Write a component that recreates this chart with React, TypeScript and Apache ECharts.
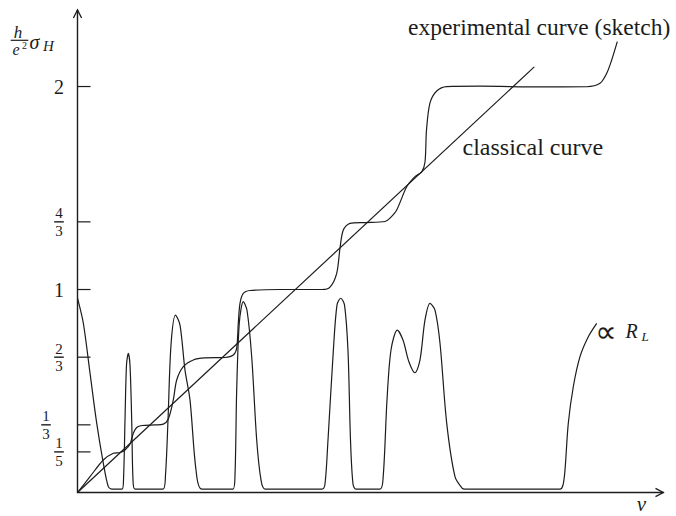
import React, { useEffect, useRef } from 'react';
import * as echarts from 'echarts';

// y-axis ticks
const yTickValues = [1 / 5, 1 / 3, 2 / 3, 1, 4 / 3, 2];
const yTickLabels = ['1/5', '1/3', '2/3', '1', '4/3', '2'];

// classical curve (straight line)
const classicalNu = [0, 4.568];
const classicalSigma = [0, 2.097];

// experimental Hall curve (sketch)
const hallNu = [
  0, 0.125, 0.258, 0.358, 0.425, 0.475, 0.525, 0.558, 0.592, 0.645, 0.775, 0.858, 0.908, 0.958, 0.992,
  1.058, 1.158, 1.275, 1.475, 1.558, 1.592, 1.608, 1.625, 1.658, 1.725, 2.025, 2.445, 2.525, 2.592,
  2.625, 2.658, 2.725, 2.875, 3.075, 3.125, 3.192, 3.292, 3.375, 3.442, 3.475, 3.49, 3.525, 3.592,
  3.692, 4.025, 4.625, 5.092, 5.225, 5.292, 5.342, 5.398,
];
const hallSigma = [
  0, 0.078, 0.16, 0.193, 0.197, 0.209, 0.239, 0.292, 0.32, 0.33, 0.333, 0.337, 0.362, 0.456, 0.554,
  0.62, 0.653, 0.663, 0.665, 0.677, 0.712, 0.835, 0.932, 0.981, 0.995, 1.0, 1.0, 1.012, 1.08,
  1.204, 1.293, 1.326, 1.33, 1.335, 1.352, 1.392, 1.506, 1.556, 1.579, 1.628, 1.786, 1.919, 1.978,
  2.0, 2.002, 1.998, 1.999, 2.016, 2.065, 2.131, 2.221,
];

// longitudinal resistance (arbitrary units)
const rlNu = [
  0, 0.058, 0.125, 0.192, 0.258, 0.308, 0.345, 0.445, 0.46, 0.475, 0.49, 0.508, 0.525, 0.542, 0.555,
  0.575, 0.855, 0.88, 0.905, 0.935, 0.98, 1.025, 1.075, 1.125, 1.185, 1.242, 1.555, 1.575, 1.592,
  1.618, 1.658, 1.695, 1.742, 1.792, 1.835, 1.875, 2.445, 2.475, 2.505, 2.558, 2.595, 2.632, 2.67,
  2.705, 2.73, 2.755, 2.785, 3.025, 3.058, 3.095, 3.135, 3.198, 3.255, 3.315, 3.375, 3.425, 3.475,
  3.525, 3.575, 3.625, 3.692, 3.775, 3.845, 3.875, 4.825, 4.855, 4.875, 4.908, 4.958, 5.025, 5.108,
  5.192,
];
const rlValue = [
  0.958, 0.835, 0.589, 0.342, 0.145, 0.029, 0.017, 0.017, 0.062, 0.357, 0.628, 0.686, 0.628, 0.357,
  0.062, 0.017, 0.017, 0.086, 0.357, 0.727, 0.874, 0.825, 0.603, 0.456, 0.111, 0.017, 0.017, 0.086,
  0.505, 0.835, 0.94, 0.898, 0.669, 0.259, 0.062, 0.017, 0.017, 0.042, 0.259, 0.696, 0.924, 0.957,
  0.924, 0.697, 0.259, 0.042, 0.017, 0.017, 0.086, 0.456, 0.702, 0.8, 0.751, 0.643, 0.59, 0.653,
  0.85, 0.932, 0.898, 0.735, 0.342, 0.078, 0.022, 0.017, 0.017, 0.037, 0.111, 0.341, 0.521, 0.669,
  0.767, 0.833,
];

const INK = '#1c1c1c';
const SERIF = '"Liberation Serif", "Times New Roman", serif';

function zip(a: number[], b: number[]) {
  return a.map((v, i) => [v, b[i]]);
}

export default function App() {
  const ref = useRef<HTMLDivElement>(null);

  useEffect(() => {
    if (!ref.current) return;
    const chart = echarts.init(ref.current, null, { renderer: 'svg' });

    const lineCommon = {
      type: 'line' as const,
      symbol: 'none',
      lineStyle: { color: INK, width: 1.2 },
      silent: true,
      z: 3,
    };

    const txt = (text: string, x: number, y: number, size: number, opts: any = {}) => ({
      type: 'text',
      x,
      y,
      silent: true,
      style: {
        text,
        font: `${opts.italic ? 'italic ' : ''}${size}px ${opts.family || SERIF}`,
        fill: INK,
        align: opts.align || 'left',
        textAlign: opts.align || 'left',
        verticalAlign: 'middle',
        textVerticalAlign: 'middle',
      },
    });

    chart.setOption({
      animation: false,
      grid: { left: 77.5, right: 12.7, top: 10, bottom: 23.5, outerBoundsMode: 'none' },
      xAxis: {
        type: 'value',
        min: 0,
        max: 5.858,
        axisLine: { show: true, lineStyle: { color: INK, width: 1.4 } },
        axisTick: { show: false },
        axisLabel: { show: false },
        splitLine: { show: false },
      },
      yAxis: {
        type: 'value',
        min: 0,
        max: 2.377,
        axisLine: { show: true, lineStyle: { color: INK, width: 1.4 } },
        axisTick: { show: false },
        axisLabel: { show: false },
        splitLine: { show: false },
      },
      series: [
        { ...lineCommon, name: 'classical', data: zip(classicalNu, classicalSigma), smooth: false },
        {
          ...lineCommon,
          name: 'hall',
          data: zip(hallNu, hallSigma),
          smooth: 0.3,
        },
        {
          ...lineCommon,
          name: 'RL',
          data: zip(rlNu, rlValue),
          smooth: 0.3,
        },
        {
          type: 'custom',
          name: 'ticks',
          clip: false,
          silent: true,
          z: 4,
          data: yTickValues.map((v) => [0, v]),
          renderItem: (params: any, api: any) => {
            const i = params.dataIndex;
            const v = api.value(1);
            const p = api.coord([0, v]);
            const x0 = p[0];
            const y0 = p[1];
            const children: any[] = [
              {
                type: 'line',
                shape: { x1: x0, y1: y0, x2: x0 + 13, y2: y0 },
                style: { stroke: INK, lineWidth: 1.2 },
              },
            ];
            const label = yTickLabels[i];
            const parts = label.split('/');
            const offset = label === '1/3' ? 31.5 : 18.5;
            const cx = x0 - offset;
            const mk = (t: string, x: number, y: number, size: number) => ({
              type: 'text',
              x,
              y,
              style: {
                text: t,
                font: `${size}px ${SERIF}`,
                fill: INK,
                align: 'center',
                textAlign: 'center',
                verticalAlign: 'middle',
                textVerticalAlign: 'middle',
              },
            });
            if (parts.length === 2) {
              children.push(mk(parts[0], cx, y0 - 8.5, 15));
              children.push({
                type: 'line',
                shape: { x1: cx - 4.8, y1: y0, x2: cx + 4.8, y2: y0 },
                style: { stroke: INK, lineWidth: 1.4 },
              });
              children.push(mk(parts[1], cx, y0 + 9, 15));
            } else {
              children.push(mk(label, cx, y0, 20));
            }
            return { type: 'group', children };
          },
        },
      ],
      graphic: [
        {
          type: 'polyline',
          silent: true,
          shape: { points: [[73.4, 18], [77.5, 10], [81.6, 18]] },
          style: { stroke: INK, lineWidth: 1.3, fill: 'none' },
        },
        {
          type: 'polyline',
          silent: true,
          shape: { points: [[655.5, 488.4], [663.3, 492.5], [655.5, 496.6]] },
          style: { stroke: INK, lineWidth: 1.3, fill: 'none' },
        },
        txt('experimental curve (sketch)', 408, 27, 23.5),
        txt('classical curve', 462.5, 147, 24),
        txt('∝', 606, 331, 30, { align: 'center', family: '"DejaVu Sans", sans-serif' }),
        txt('R', 625.5, 331.3, 20, { italic: true }),
        txt('L', 641.5, 336, 13, { italic: true }),
        txt('ν', 641.3, 504, 21, { italic: true, align: 'center' }),
        txt('h', 18, 32, 17, { italic: true, align: 'center' }),
        {
          type: 'line',
          silent: true,
          shape: { x1: 10.7, y1: 40.3, x2: 28.3, y2: 40.3 },
          style: { stroke: INK, lineWidth: 1.2 },
        },
        txt('e', 16, 49.5, 16, { italic: true, align: 'center' }),
        txt('2', 24.5, 45, 10, { align: 'center' }),
        txt('σ', 34.5, 42, 20, { italic: true, align: 'center' }),
        txt('H', 48.5, 46, 15, { italic: true, align: 'center' }),
      ],
    });

    return () => chart.dispose();
  }, []);

  return (
    <div
      ref={ref}
      style={{ position: 'fixed', left: 0, top: 0, width: 676, height: 516, background: '#fff' }}
    />
  );
}
